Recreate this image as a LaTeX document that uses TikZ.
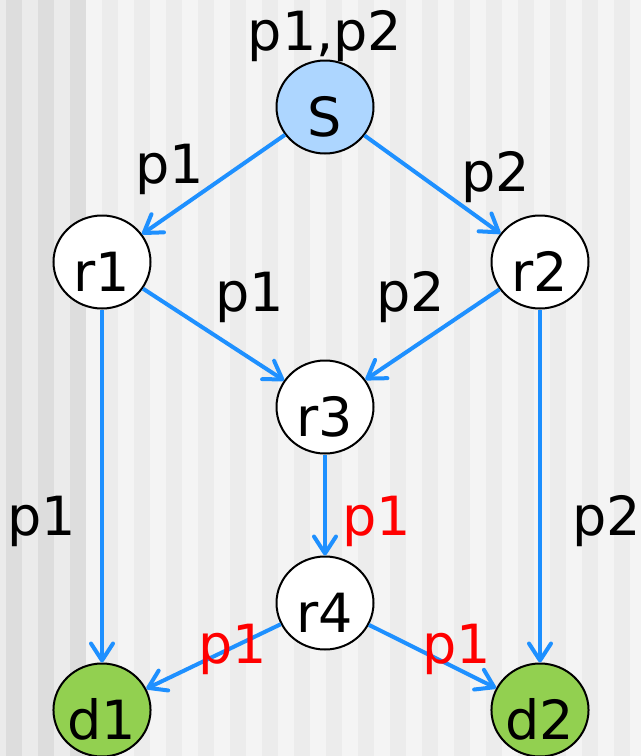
\documentclass[tikz,border=0pt]{standalone}
\usepackage{fontspec}
\setmainfont{DejaVu Sans}
\usetikzlibrary{arrows.meta,shapes.geometric}
\definecolor{linkblue}{RGB}{30,144,255}
\definecolor{srcblue}{RGB}{173,214,255}
\definecolor{sinkgreen}{RGB}{146,208,80}
\definecolor{stripeA}{RGB}{235,235,235}
\definecolor{stripeB}{RGB}{221,221,221}
\definecolor{stripeC}{RGB}{244,244,244}
\definecolor{stripeD}{RGB}{236,236,236}
\newcommand{\bigfont}{\fontsize{54}{60}\selectfont}

\begin{document}
\begin{tikzpicture}[x=1pt,y=-1pt,
    router/.style={ellipse,draw=black,line width=2pt,fill=white,
        minimum width=97pt,minimum height=93pt,inner sep=0pt,
        text height=59pt,text depth=0pt,font=\bigfont},
    link/.style={draw=linkblue,line width=4pt,
        -{Straight Barb[round,length=17pt,width=22pt]}},
    lbl/.style={anchor=base,font=\bigfont},
    coded/.style={lbl,text=red}]
    \useasboundingbox (0,0) rectangle (641,756);

    % striped background
    \fill[stripeA] (0,0) rectangle (86,756);
    \fill[stripeC] (86,0) rectangle (641,756);
    \foreach \x in {6,38,70}
        \fill[stripeB] (\x,0) rectangle (\x+16,756);
    \foreach \x in {102,134,...,614}
        \fill[stripeD] (\x,0) rectangle (\x+16,756);

    % nodes
    \node[router,fill=srcblue] (s) at (325,107) {S};
    \node[router] (r1) at (102,262) {r1};
    \node[router] (r2) at (540,262) {r2};
    \node[router] (r3) at (325,407) {r3};
    \node[router] (r4) at (325,603) {r4};
    \node[router,fill=sinkgreen] (d1) at (102,710) {d1};
    \node[router,fill=sinkgreen] (d2) at (540,710) {d2};

    % links
    \draw[link] (s) -- (r1);
    \draw[link] (s) -- (r2);
    \draw[link] (r1) -- (r3);
    \draw[link] (r2) -- (r3);
    \draw[link] (r1) -- (d1);
    \draw[link] (r2) -- (d2);
    \draw[link] (r3) -- (r4);
    \draw[link] (r4) -- (d1);
    \draw[link] (r4) -- (d2);

    % packet labels
    \node[lbl] (lsrc) at (325,50) {p1,p2};
    \node[lbl] (lsr1) at (170,183) {p1};
    \node[lbl] (lsr2) at (496,191) {p2};
    \node[lbl] (lr13) at (250,311) {p1};
    \node[lbl] (lr23) at (411,311) {p2};
    \node[lbl] (lr1d) at (42,535) {p1};
    \node[coded] (lr34) at (377,535) {p1};
    \node[lbl] (lr2d) at (607,535) {p2};
    \node[coded] (lr4a) at (233,663) {p1};
    \node[coded] (lr4b) at (457,663) {p1};
\end{tikzpicture}
\end{document}
